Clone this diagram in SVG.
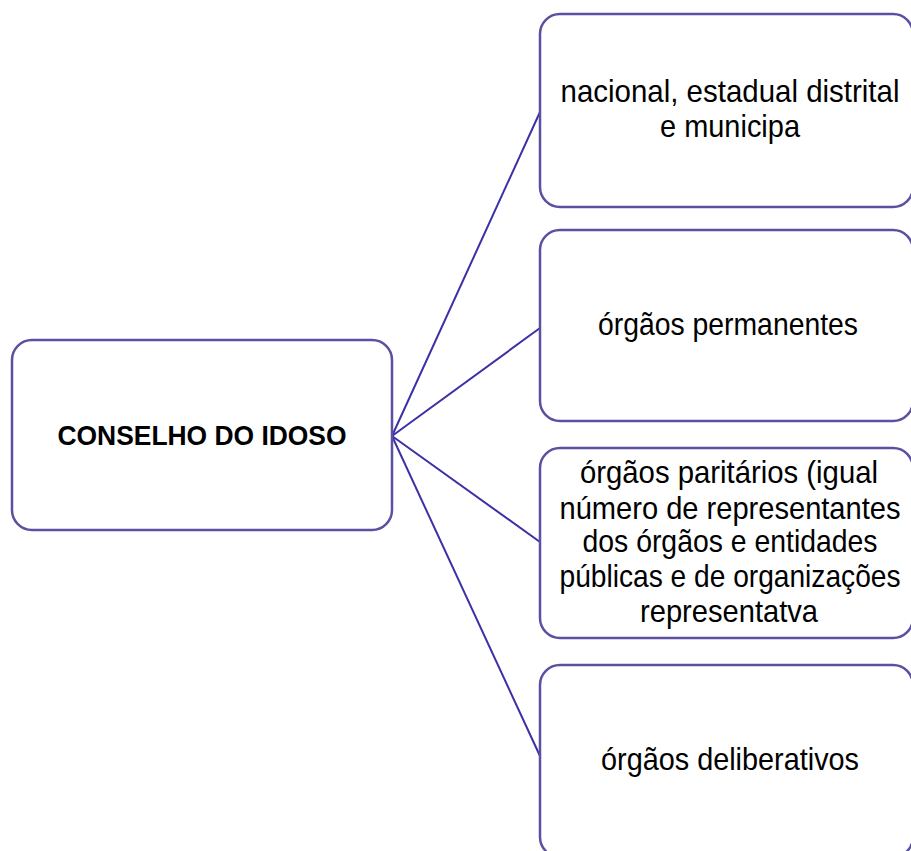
<svg xmlns="http://www.w3.org/2000/svg" width="911" height="851" viewBox="0 0 911 851">
<style>
.box{fill:#ffffff;stroke:#5a52a0;stroke-width:2.5}
.conn{stroke:#3b30a6;stroke-width:2;fill:none}
.t{font-family:"Liberation Sans","Noto Sans",sans-serif;font-size:27px;fill:#000;text-anchor:middle}
.b{font-weight:bold;font-size:28px}
</style>
<rect width="911" height="851" fill="#ffffff"/>
<g id="connectors">
<line class="conn" x1="392" y1="436" x2="540" y2="112"/>
<line class="conn" x1="392" y1="436" x2="540" y2="328"/>
<line class="conn" x1="392" y1="436" x2="540" y2="542"/>
<line class="conn" x1="392" y1="436" x2="540" y2="756"/>
</g>
<g id="node-conselho">
<rect class="box" x="12" y="340" width="380" height="190" rx="20"/>
<text class="t b" x="202" y="445" textLength="289" lengthAdjust="spacingAndGlyphs">CONSELHO DO IDOSO</text>
</g>
<g id="node-nacional">
<rect class="box" x="540" y="14" width="373" height="193" rx="20"/>
<text class="t" x="730" y="0" transform="translate(0,102) scale(1,1.15)" textLength="339" lengthAdjust="spacingAndGlyphs">nacional, estadual distrital</text>
<text class="t" x="730" y="0" transform="translate(0,137) scale(1,1.15)" textLength="140" lengthAdjust="spacingAndGlyphs">e municipa</text>
</g>
<g id="node-permanentes">
<rect class="box" x="540" y="230" width="373" height="191" rx="20"/>
<text class="t" x="728" y="0" transform="translate(0,335) scale(1,1.15)" textLength="260" lengthAdjust="spacingAndGlyphs">órgãos permanentes</text>
</g>
<g id="node-paritarios">
<rect class="box" x="540" y="448" width="373" height="190" rx="20"/>
<text class="t" x="729" y="0" transform="translate(0,483) scale(1,1.15)" textLength="298" lengthAdjust="spacingAndGlyphs">órgãos paritários (igual</text>
<text class="t" x="730" y="0" transform="translate(0,519) scale(1,1.15)" textLength="341" lengthAdjust="spacingAndGlyphs">número de representantes</text>
<text class="t" x="730" y="0" transform="translate(0,552) scale(1,1.15)" textLength="295" lengthAdjust="spacingAndGlyphs">dos órgãos e entidades</text>
<text class="t" x="730" y="0" transform="translate(0,587) scale(1,1.15)" textLength="341" lengthAdjust="spacingAndGlyphs">públicas e de organizações</text>
<text class="t" x="729" y="0" transform="translate(0,622) scale(1,1.15)" textLength="178" lengthAdjust="spacingAndGlyphs">representatva</text>
</g>
<g id="node-deliberativos">
<rect class="box" x="540" y="665" width="373" height="192" rx="20"/>
<text class="t" x="730" y="0" transform="translate(0,770) scale(1,1.15)" textLength="258" lengthAdjust="spacingAndGlyphs">órgãos deliberativos</text>
</g>
</svg>
